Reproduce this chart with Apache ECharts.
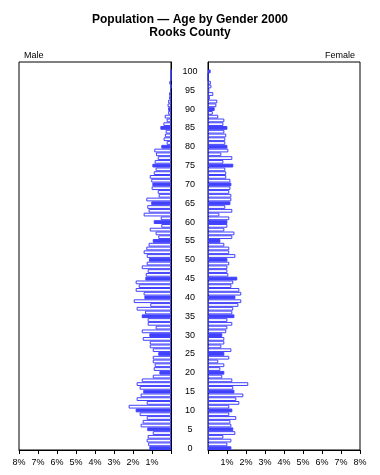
<!DOCTYPE html>
<html>
<head>
<meta charset="utf-8">
<script src="https://cdn.jsdelivr.net/npm/echarts@6/dist/echarts.min.js"></script>
<style>html,body{margin:0;padding:0;background:#fff}#c{width:380px;height:475px}</style>
</head>
<body>
<div id="c"></div>
<script>
// ages 0..100
var ages = [];
for (var i = 0; i <= 100; i++) ages.push(i);

// percent of population, index = age
var male = [
  1.14, 1.20, 1.28, 1.23, 0.96, 1.25, 1.60, 1.49, 1.28, 1.65,
  1.86, 2.23, 1.28, 1.81, 1.60, 1.46, 1.65, 1.81, 1.54, 0.96,
  0.61, 0.91, 0.86, 0.96, 0.96, 0.67, 0.96, 1.12, 1.12, 1.49,
  1.14, 1.54, 0.81, 1.23, 1.23, 1.54, 1.37, 1.81, 1.09, 1.96,
  1.40, 1.44, 1.86, 1.70, 1.86, 1.35, 1.33, 1.23, 1.54, 1.28,
  1.16, 1.28, 1.44, 1.30, 1.18, 0.96, 0.67, 0.81, 1.12, 0.51,
  0.91, 0.54, 1.44, 1.18, 1.25, 1.04, 1.30, 0.65, 0.70, 1.02,
  0.98, 1.04, 1.12, 0.91, 0.81, 0.98, 0.86, 0.70, 0.79, 0.88,
  0.51, 0.23, 0.39, 0.32, 0.28, 0.56, 0.40, 0.23, 0.33, 0.15,
  0.15, 0.18, 0.15, 0.10, 0.10, 0.05, 0.00, 0.09, 0.00, 0.00,
  0.00
];
var female = [
  1.23, 1.02, 1.23, 0.81, 1.44, 1.33, 1.23, 1.18, 1.49, 1.12,
  1.28, 1.12, 1.65, 1.49, 1.86, 1.39, 1.33, 2.12, 1.28, 0.75,
  0.86, 0.65, 0.86, 0.54, 1.12, 0.86, 1.23, 0.70, 0.86, 0.86,
  0.75, 0.96, 1.02, 1.28, 1.02, 1.39, 1.28, 1.33, 1.60, 1.75,
  1.44, 1.75, 1.65, 1.23, 1.33, 1.54, 1.07, 1.02, 1.02, 1.12,
  1.02, 1.44, 1.12, 1.12, 0.86, 0.65, 1.28, 1.39, 0.86, 1.02,
  1.02, 1.12, 0.60, 1.28, 0.91, 1.18, 1.23, 1.23, 1.12, 1.18,
  1.23, 1.18, 0.96, 0.96, 0.91, 1.33, 0.81, 1.28, 0.70, 1.07,
  1.02, 0.91, 0.91, 0.96, 0.86, 1.02, 0.81, 0.86, 0.54, 0.25,
  0.35, 0.44, 0.49, 0.10, 0.28, 0.07, 0.18, 0.15, 0.00, 0.00,
  0.14
];
var tickValues = [0, 1, 2, 3, 4, 5, 6, 7, 8];

var BLUE = '#4040ff';
var cats = ages.map(String).concat(['', '']);

function items(arr) {
  return arr.map(function (v, a) {
    return {
      value: v,
      itemStyle: { color: a % 5 === 0 ? BLUE : '#ffffff', borderColor: BLUE, borderWidth: 1 }
    };
  });
}

var font = 'Arial, "Liberation Sans", Helvetica, sans-serif';
var chart = echarts.init(document.getElementById('c'), null, { renderer: 'canvas' });

function xAxisCfg(idx, inverse) {
  return {
    gridIndex: idx, type: 'value', min: tickValues[0], max: tickValues[tickValues.length - 1], interval: 1, inverse: inverse,
    axisLine: { show: true, lineStyle: { color: '#000', width: 1 } },
    axisTick: { show: true, length: 4, lineStyle: { color: '#000' } },
    axisLabel: {
      color: '#000', fontSize: 9, fontFamily: font, margin: 8,
      formatter: function (v) { return v === 0 ? '' : v + '%'; }
    },
    splitLine: { show: false }
  };
}

chart.setOption({
  animation: false,
  backgroundColor: '#fff',
  textStyle: { fontFamily: font },
  title: [
    { text: 'Population \u2014 Age by Gender 2000\nRooks County', left: 'center', top: 8,
      textStyle: { fontSize: 12, fontWeight: 'bold', color: '#000', lineHeight: 13, fontFamily: font } },
    { text: 'Male', left: 19, top: 46, textStyle: { fontSize: 9, fontWeight: 'normal', color: '#000', fontFamily: font } },
    { text: 'Female', right: 20, top: 46, textStyle: { fontSize: 9, fontWeight: 'normal', color: '#000', fontFamily: font } }
  ],
  grid: [
    { left: 19, top: 62, width: 152, height: 388, show: true, borderColor: '#000', borderWidth: 1, backgroundColor: 'transparent' },
    { left: 208, top: 62, width: 152, height: 388, show: true, borderColor: '#000', borderWidth: 1, backgroundColor: 'transparent' }
  ],
  xAxis: [xAxisCfg(0, true), xAxisCfg(1, false)],
  yAxis: [
    {
      gridIndex: 0, type: 'category', data: cats, position: 'right',
      axisLine: { show: true, onZero: false, lineStyle: { color: '#000' } },
      axisTick: { show: false },
      axisLabel: {
        color: '#000', fontSize: 9, fontFamily: font, align: 'center', margin: 19,
        interval: function (i) { return i % 5 === 0 && i <= 100; }
      },
      splitLine: { show: false }
    },
    {
      gridIndex: 1, type: 'category', data: cats, position: 'left',
      axisLine: { show: true, onZero: false, lineStyle: { color: '#000' } },
      axisTick: { show: false }, axisLabel: { show: false }, splitLine: { show: false }
    }
  ],
  series: [
    { name: 'Male', type: 'bar', xAxisIndex: 0, yAxisIndex: 0, data: items(male), barCategoryGap: '0%' },
    { name: 'Female', type: 'bar', xAxisIndex: 1, yAxisIndex: 1, data: items(female), barCategoryGap: '0%' }
  ]
});
</script>
</body>
</html>
